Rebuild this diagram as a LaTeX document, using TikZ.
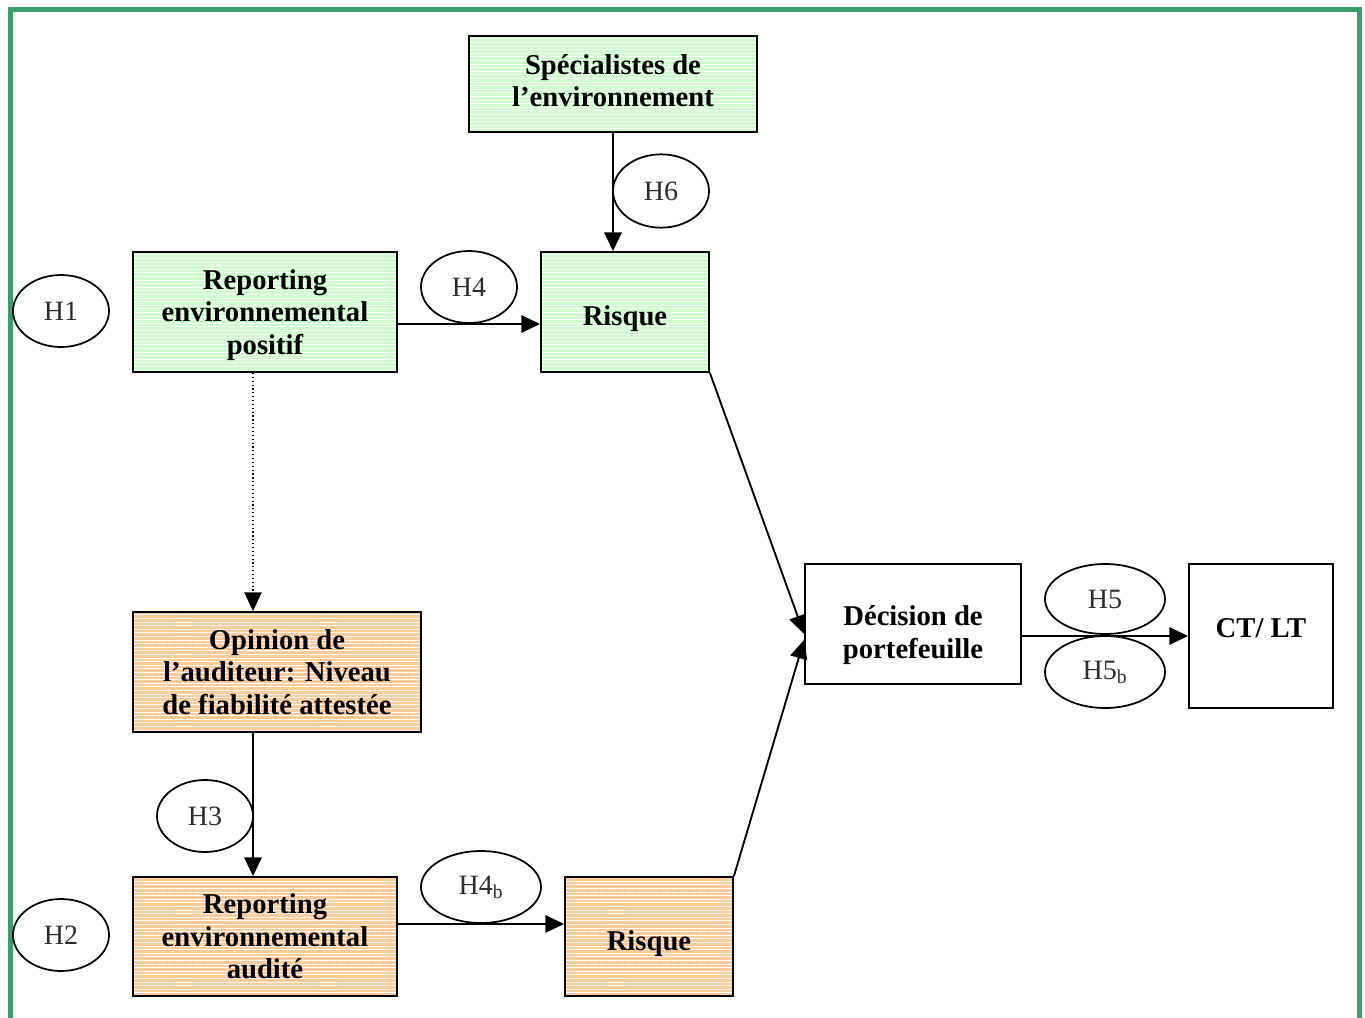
\documentclass[tikz,border=0pt]{standalone}
\usepackage{fontspec}
\setmainfont{Liberation Serif}
\usetikzlibrary{arrows.meta,patterns.meta,shapes.geometric,calc}
\definecolor{gfill}{RGB}{204,255,204}
\definecolor{ofill}{RGB}{255,204,153}
\definecolor{framecol}{RGB}{58,158,106}
\definecolor{htext}{RGB}{45,45,45}
\begin{document}
\begin{tikzpicture}[x=0.75pt,y=-0.75pt,
  bfont/.style={font=\fontsize{21.5}{24.4}\selectfont\bfseries, align=center},
  box/.style={draw, line width=1.4pt, rectangle, inner sep=0pt, bfont},
  grn/.style={box, preaction={fill=gfill},
    pattern={Lines[angle=0,distance=2.7pt,line width=0.55pt]}, pattern color=white},
  org/.style={box, preaction={fill=ofill},
    pattern={Lines[angle=0,distance=2.7pt,line width=0.55pt]}, pattern color=white},
  hyp/.style={draw, ellipse, line width=1.3pt, inner sep=0pt,
    font=\fontsize{21}{24}\selectfont, text=htext},
  arr/.style={line width=1.4pt, -{Triangle[length=14pt,width=13pt]}},
]
\useasboundingbox (0,0) rectangle (1365,1018);
\draw[framecol, line width=3.75pt] (10.5,1040) -- (10.5,9.5) -- (1359.5,9.5) -- (1359.5,1040);

% boxes
\node[grn, minimum width=216pt, minimum height=72pt,
  label={[bfont, yshift=2.5pt]center:Spécialistes de\\l’environnement}] (spec) at (613,84) {};
\node[grn, minimum width=126pt, minimum height=90pt,
  label={[bfont, yshift=-5pt]center:Risque}] (r1) at (625,312) {};
\node[grn, minimum width=198pt, minimum height=90pt,
  label={[bfont, yshift=-2pt]center:Reporting\\environnemental\\positif}] (rp) at (265,312) {};
\node[org, minimum width=216pt, minimum height=90pt] (op) at (277,672) {Opinion de\\l’auditeur: Niveau\\de fiabilité attestée};
\node[org, minimum width=198pt, minimum height=89.25pt] (ra) at (265,936.5) {Reporting\\environnemental\\audité};
\node[org, minimum width=126pt, minimum height=89.25pt,
  label={[bfont, yshift=-5pt]center:Risque}] (r2) at (649,936.5) {};
\node[box, minimum width=162pt, minimum height=90pt,
  label={[bfont, yshift=-8.3pt]center:Décision de\\portefeuille}] (dec) at (913,624) {};
\node[box, minimum width=108pt, minimum height=108pt,
  label={[bfont, yshift=6pt]center:CT/ LT}] (ct) at (1261,636) {};

% hypotheses
\node[hyp, minimum width=72pt, minimum height=54pt] (h1) at (61,311) {H1};
\node[hyp, minimum width=72pt, minimum height=55pt] (h6) at (661,191) {H6};
\node[hyp, minimum width=72pt, minimum height=54pt] (h4) at (469,287) {H4};
\node[hyp, minimum width=90pt, minimum height=52.5pt] (h5) at (1105,599) {H5};
\node[hyp, minimum width=90pt, minimum height=54pt] (h5b) at (1105,672) {H5\textsubscript{b}};
\node[hyp, minimum width=72pt, minimum height=54pt] (h3) at (205,816) {H3};
\node[hyp, minimum width=90pt, minimum height=54pt] (h4b) at (481,887) {H4\textsubscript{b}};
\node[hyp, minimum width=72pt, minimum height=54pt] (h2) at (61,935) {H2};

% connectors
\draw[arr] (spec.south) -- (spec.south |- r1.north);
\draw[arr] ([yshift=-9pt]rp.east) -- ([yshift=-9pt]r1.west);
\draw[line width=0.9pt, dotted, -{Triangle[length=14pt,width=13pt]}] ([xshift=-9pt]rp.south) -- ([xshift=-18pt]op.north);
\draw[arr] ([xshift=-18pt]op.south) -- ([xshift=-9pt]ra.north);
\draw[arr] ([yshift=9.4pt]ra.east) -- ([yshift=9.4pt]r2.west);
\draw[arr] (r1.south east) -- ([yshift=-7.5pt]dec.west);
\draw[arr] (r2.north east) -- ([yshift=-12pt]dec.west);
\draw[arr] (dec.east |- ct.west) -- (ct.west);
\end{tikzpicture}
\end{document}
